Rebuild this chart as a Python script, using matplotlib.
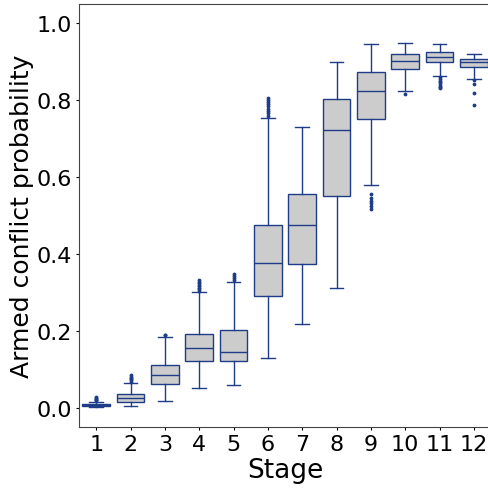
import numpy as np
import matplotlib.pyplot as plt

stages = np.arange(1, 13)
med = [0.007, 0.026, 0.085, 0.156, 0.144, 0.377, 0.475, 0.722, 0.824, 0.903, 0.913, 0.899]
q1 = [0.004, 0.015, 0.062, 0.122, 0.121, 0.291, 0.375, 0.551, 0.751, 0.880, 0.900, 0.885]
q3 = [0.010, 0.035, 0.111, 0.193, 0.203, 0.476, 0.556, 0.802, 0.874, 0.920, 0.924, 0.906]
whislo = [0.002, 0.004, 0.018, 0.052, 0.060, 0.130, 0.218, 0.311, 0.579, 0.825, 0.863, 0.856]
whishi = [0.016, 0.065, 0.183, 0.300, 0.326, 0.753, 0.729, 0.899, 0.947, 0.949, 0.946, 0.921]
fliers = [
    [0.019, 0.021, 0.023, 0.025, 0.027],
    [0.068, 0.071, 0.074, 0.077, 0.080, 0.084],
    [0.188, 0.190],
    [0.304, 0.308, 0.312, 0.316, 0.320, 0.324, 0.328, 0.332],
    [0.333, 0.338, 0.343, 0.349],
    [0.760, 0.766, 0.772, 0.778, 0.784, 0.790, 0.796, 0.801, 0.805],
    [],
    [],
    [0.556, 0.545, 0.538, 0.532, 0.526, 0.517],
    [0.816],
    [0.859, 0.855, 0.850, 0.846, 0.842, 0.838, 0.834, 0.831],
    [0.852, 0.842, 0.819, 0.787],
]

stats = []
for i in range(len(stages)):
    stats.append(dict(med=med[i], q1=q1[i], q3=q3[i], whislo=whislo[i],
                      whishi=whishi[i], fliers=fliers[i], label=str(stages[i])))

edge = "#1f3c88"
fig = plt.figure(figsize=(4.89, 4.89), dpi=100)
ax = fig.add_axes([0.1616, 0.1247, 0.8425, 0.8651])
ax.bxp(stats, positions=stages, widths=0.8, patch_artist=True,
       boxprops=dict(facecolor="#cccccc", edgecolor=edge, linewidth=1),
       medianprops=dict(color=edge, linewidth=1),
       whiskerprops=dict(color=edge, linewidth=1),
       capprops=dict(color=edge, linewidth=1),
       flierprops=dict(marker=".", markersize=3.5, markerfacecolor=edge,
                       markeredgecolor=edge, linestyle="none"))
ax.set_xlim(0.5, 12.5)
ax.set_ylim(-0.05, 1.05)
ax.set_yticks([0.0, 0.2, 0.4, 0.6, 0.8, 1.0])
for s in ax.spines.values():
    s.set_color("#444444")
ax.tick_params(labelsize=16, length=2.2, pad=3)
ax.set_xlabel("Stage", fontsize=19, labelpad=2)
ax.set_ylabel("Armed conflict probability", fontsize=18, labelpad=2)
fig.savefig("out.png", dpi=100)
